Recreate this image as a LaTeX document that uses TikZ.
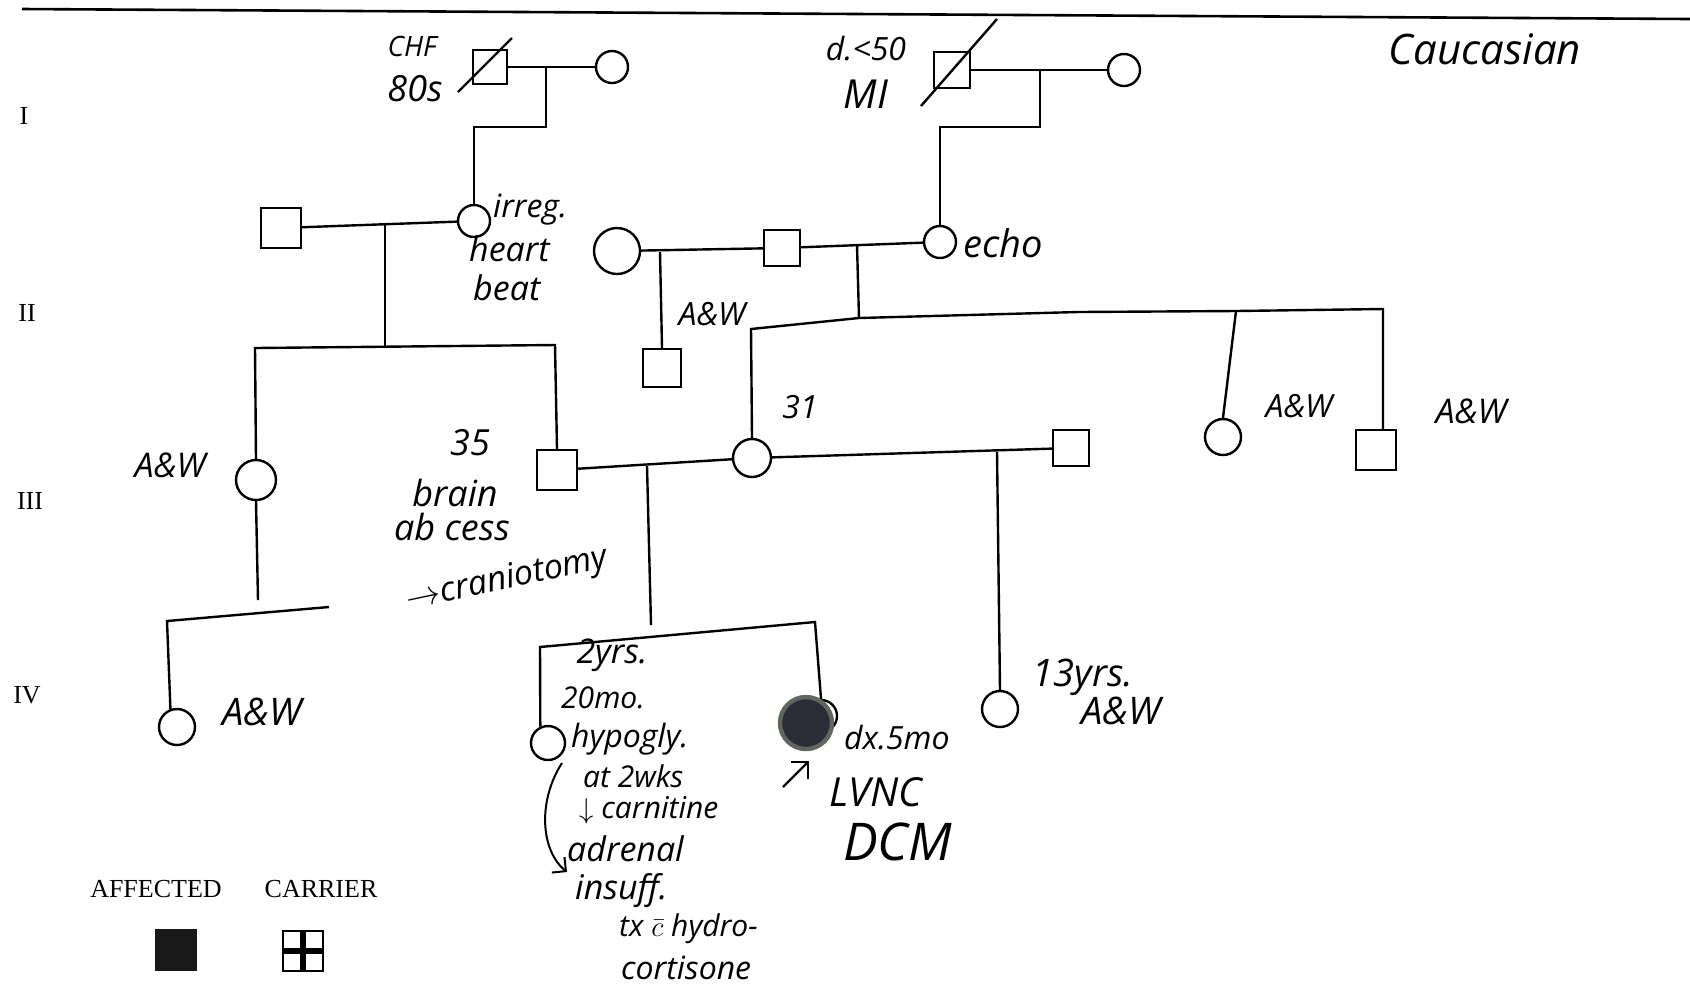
\documentclass[tikz,border=0pt]{standalone}
\usepackage{fontspec}
\setmainfont{Liberation Serif}
\newfontfamily\hand{Open Sans}
\usetikzlibrary{arrows.meta}
\definecolor{probfill}{HTML}{2A2C38}
\definecolor{probedge}{HTML}{5F665C}
\begin{document}
\begin{tikzpicture}[x=0.5pt,y=-0.5pt,line width=1.2pt,
  male/.style={draw,rectangle,inner sep=0pt,minimum size=#1},
  male/.default=18pt,
  female/.style={draw,circle,inner sep=0pt,minimum size=#1},
  female/.default=17pt,
  hw/.style={font=\hand\itshape\fontsize{#1}{#1}\selectfont,inner sep=0pt},
  hw/.default=14,
  gen/.style={font=\fontsize{13}{13}\selectfont,inner sep=0pt},
  legend/.style={font=\fontsize{13}{13}\selectfont,inner sep=0pt}]
\useasboundingbox (0,0) rectangle (1690,1003);
\fill[white] (0,0) rectangle (1690,1003);
% top rule
\draw[line width=1.3pt] (22,9) -- (1690,19);
% generation numerals
\node[gen] (gI) at (24,116) {I};
\node[gen] (gII) at (27,313) {II};
\node[gen] (gIII) at (30,501) {III};
\node[gen] (gIV) at (27,695) {IV};

% ---------- Generation I ----------
\node[male=17pt] (I1) at (490,67) {};
\node[female=16pt] (I2) at (612,67) {};
\node[male=18pt] (I3) at (952,70) {};
\node[female=16pt] (I4) at (1124,70) {};
\draw ([shift={(-32,25)}]I1.center) -- ([shift={(22,-29)}]I1.center);
\draw ([shift={(-31,36)}]I3.center) -- ([shift={(45,-51)}]I3.center);
\draw (I1) -- (I2);
\draw (I3) -- (I4);
\node[hw=14] (tCHF) at (412,46) {CHF};
\node[hw=18] (t80s) at (415,89) {80s};
\node[hw=16] (td50) at (866,49) {d.<50};
\node[hw=20] (tMI) at (866,94) {MI};
\node[hw=21] (tcauc) at (1485,49) {Caucasian};

% ---------- Generation II ----------
\node[male=20pt] (II1) at (281,228) {};
\node[female=16pt] (II2) at (474,221) {};
\node[female=23pt] (II3) at (617,251) {};
\node[male=18pt] (II4) at (782,248) {};
\node[female=16pt] (II5) at (940,242) {};
\node[male=19pt] (II6) at (662,368) {};
\draw (II1) -- (II2);
\draw (II3) -- (II4);
\draw (II4) -- (II5);

\coordinate (j1) at (546,67);
\coordinate (k1) at (546,127);
\draw (j1) -- (k1) -| (II2.north);
\coordinate (j2) at (1040,70);
\coordinate (k2) at (1040,127);
\draw (j2) -- (k2) -| (II5.north);

\node[hw=16,anchor=west] (tirr) at (492,210) {irreg.};
\node[hw=17,anchor=west] (theart) at (468,249) {heart};
\node[hw=17,anchor=west] (tbeat) at (472,288) {beat};
\node[hw=19,anchor=west] (techo) at (962,243) {echo};
\node[hw=16] (tAW1) at (712,314) {A\&W};

% II3 x II4 -> II6
\coordinate (j4) at (660,252);
\draw (j4) -- (II6.north);

% ---------- Generation III ----------
\node[female=20pt] (III1) at (256,480) {};
\node[male=20pt] (III2) at (557,470) {};
\node[female=19pt] (III3) at (752,458) {};
\node[male=18pt] (III4) at (1071,448) {};
\node[female=18pt] (III6) at (1223,437) {};
\node[male=20pt] (III7) at (1376,450) {};

% II1 x II2 -> III1, III2
\coordinate (j3) at (385,223);
\coordinate (s1m) at (385,346);
\coordinate (s1l) at (255,348);
\coordinate (s1r) at (555,345);
\draw (j3) -- (s1m);
\draw (III1.north) -- (s1l) -- (s1r) -- (III2.north);

% II4 x II5 -> III3, III6, III7
\coordinate (j5) at (857,245);
\coordinate (s2m) at (859,318);
\coordinate (s2l) at (751,329);
\coordinate (s2a) at (1078,312);
\coordinate (s2b) at (1236,311);
\coordinate (s2r) at (1383,309);
\draw (j5) -- (s2m);
\draw (III3.north) -- (s2l) -- (s2m) -- (s2a) -- (s2b) -- (s2r) -- (s2r |- III7.north);
\draw (s2b) -- (III6.north);

\draw (III2) -- (III3);
\draw (III3) -- (III4);

\node[hw=17] (tAW2) at (170,465) {A\&W};
\node[hw=18] (t35) at (470,443) {35};
\node[hw=18] (tbrain) at (455,493) {brain};
\node[hw=18] (tabcess) at (452,527) {ab cess};
\node[hw=17,rotate=12] (tcran) at (507,580) {$\rightarrow$craniotomy};
\node[hw=16] (t31) at (800,407) {31};
\node[hw=16] (tAW3) at (1299,406) {A\&W};
\node[hw=17] (tAW4) at (1471,411) {A\&W};

% ---------- Generation IV ----------
\node[female=18pt] (IV1) at (177,727) {};
\node[female=17pt] (IV2) at (548,743) {};
\node[female=16pt] (IV3o) at (821,716) {};
\node[female=18pt] (IV4) at (1000,709) {};

% III1 -> IV1
\coordinate (j6) at (258,600);
\coordinate (s3l) at (167,621);
\coordinate (s3r) at (329,607);
\draw (III1.south) -- (j6);
\draw (IV1.110) -- (s3l) -- (s3r);

% III2 x III3 -> IV2, IV3
\coordinate (j7) at (647,466);
\coordinate (s4m) at (651,625);
\coordinate (s4l) at (540,647);
\coordinate (s4r) at (815,622);
\draw (j7) -- (s4m);
\draw (IV2.115) -- (s4l) -- (s4r) -- (IV3o.north);
\node[female=26pt,fill=probfill,draw=probedge,line width=2.2pt] (IV3) at (806,723) {};

% III3 x III4 -> IV4
\coordinate (j8) at (997,452);
\draw (j8) -- (IV4.north);

\node[hw=17] (t2yrs) at (612,655) {2yrs.};
\node[hw=15] (t20mo) at (603,698) {20mo.};
\node[hw=16,anchor=west] (thypo) at (570,739) {hypogly.};
\node[hw=15,anchor=west] (tat) at (582,776) {at 2wks};
\node[hw=15,anchor=west] (tcarn) at (578,810) {$\downarrow$ carnitine};
\node[hw=17,anchor=west] (tadr) at (566,849) {adrenal};
\node[hw=17,anchor=west] (tins) at (574,891) {insuff.};
\node[hw=15,anchor=west] (ttx) at (618,929) {tx $\bar{c}$ hydro-};
\node[hw=16,anchor=west] (tcort) at (620,968) {cortisone};
\coordinate (c1) at (562,763);
\coordinate (c2) at (538,800);
\coordinate (c3) at (540,850);
\coordinate (c4) at (567,872);
\draw[line width=1pt,-{Straight Barb[length=5pt]}] (c1) .. controls (c2) and (c3) .. (c4);

\coordinate (pa1) at (783,787);
\coordinate (pa2) at (809,761);
\draw[line width=1.1pt,-{Straight Barb[length=6pt]}] (pa1) -- (pa2);
\node[hw=16,anchor=west] (tdx) at (843,738) {dx.5mo};
\node[hw=20,anchor=west] (tlvnc) at (828,792) {LVNC};
\node[hw=26,anchor=west] (tdcm) at (842,842) {DCM};

\node[hw=19] (t13) at (1083,677) {13yrs.};
\node[hw=19] (tAW5) at (1121,711) {A\&W};
\node[hw=19] (tAW6) at (262,712) {A\&W};

% ---------- Legend ----------
\node[legend] (laff) at (156,889) {AFFECTED};
\node[legend] (lcar) at (321,889) {CARRIER};
\node[rectangle,fill=black!90,minimum size=21pt,inner sep=0pt] (aff) at (176,950) {};
\node[rectangle,draw,line width=1.2pt,minimum size=20pt,inner sep=0pt] (car) at (303,951) {};
\draw[line width=2.6pt] (car.north) -- (car.south);
\draw[line width=2.6pt] (car.west) -- (car.east);
\end{tikzpicture}
\end{document}
